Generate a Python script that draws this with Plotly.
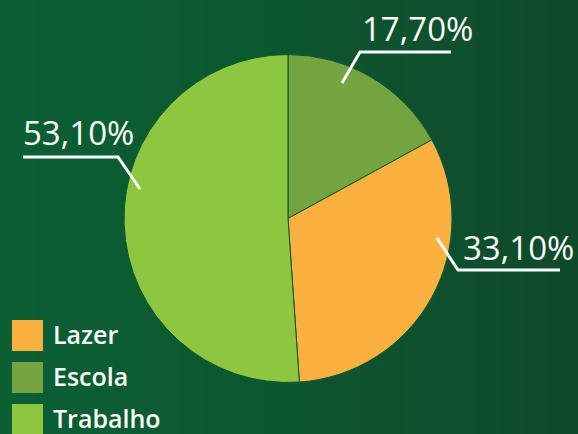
import plotly.graph_objects as go

# Data
categories = ["Escola", "Lazer", "Trabalho"]
values = [17.70, 33.10, 53.10]
value_labels = ["17,70%", "33,10%", "53,10%"]
colors = {"Lazer": "#fbb040", "Escola": "#73a43f", "Trabalho": "#8dc63f"}
legend_order = ["Lazer", "Escola", "Trabalho"]

W, H = 578, 434


def px(x):
    return x / W


def py(y):
    return 1 - y / H


def lerp_color(c1, c2, t):
    a = [int(c1[i:i + 2], 16) for i in (1, 3, 5)]
    b = [int(c2[i:i + 2], 16) for i in (1, 3, 5)]
    return "#" + "".join(f"{round(a[k] + (b[k] - a[k]) * t):02x}" for k in range(3))


shapes = []
# horizontal background gradient built from thin strips
n_strips = 96
for i in range(n_strips):
    t = i / (n_strips - 1)
    shapes.append(dict(
        type="rect", xref="paper", yref="paper",
        x0=i / n_strips, x1=(i + 1) / n_strips + 0.002, y0=0, y1=1,
        fillcolor=lerp_color("#0b5f33", "#0f4a2b", t ** 1.3),
        line=dict(width=0), layer="below",
    ))

# centre and radius of the pie in pixels
cx, cy, r = 288, 218.5, 164

fig = go.Figure(go.Pie(
    labels=categories,
    values=values,
    sort=False,
    direction="clockwise",
    rotation=0,
    marker=dict(colors=[colors[c] for c in categories],
                line=dict(color="#0d5530", width=1)),
    textinfo="none",
    hoverinfo="label+value",
    domain=dict(x=[px(cx - r), px(cx + r)], y=[py(cy + r), py(cy - r)]),
    showlegend=False,
))

# leader lines for the value callouts
leaders = {
    "Escola": [(451, 52), (360, 52), (342, 83)],
    "Lazer": [(560, 270), (458, 270), (437, 238)],
    "Trabalho": [(23, 157), (118, 157), (140, 189)],
}
for pts in leaders.values():
    path = "M " + " L ".join(f"{px(x)},{py(y)}" for x, y in pts)
    shapes.append(dict(type="path", xref="paper", yref="paper", path=path,
                       line=dict(color="white", width=3)))

annotations = []
label_pos = {"Escola": (360, 29), "Lazer": (461, 247), "Trabalho": (21, 132)}
for cat, lab in zip(categories, value_labels):
    x, y = label_pos[cat]
    annotations.append(dict(
        x=px(x), y=py(y), xref="paper", yref="paper", text=lab,
        showarrow=False, xanchor="left", yanchor="middle",
        font=dict(family="Open Sans", size=33, color="white", weight=500),
    ))

# legend drawn as swatches with labels
for i, cat in enumerate(legend_order):
    top = 320 + i * 42
    shapes.append(dict(type="rect", xref="paper", yref="paper",
                       x0=px(12), x1=px(43), y0=py(top + 31), y1=py(top),
                       fillcolor=colors[cat], line=dict(width=0)))
    annotations.append(dict(
        x=px(52), y=py(top + 14), xref="paper", yref="paper", text=cat,
        showarrow=False, xanchor="left", yanchor="middle", borderpad=0,
        font=dict(family="Open Sans", size=25, color="white", weight=600),
    ))

fig.update_layout(
    width=W, height=H,
    margin=dict(l=0, r=0, t=0, b=0),
    paper_bgcolor="#0c5630",
    plot_bgcolor="rgba(0,0,0,0)",
    shapes=shapes,
    annotations=annotations,
)

fig.write_html("out.html")
